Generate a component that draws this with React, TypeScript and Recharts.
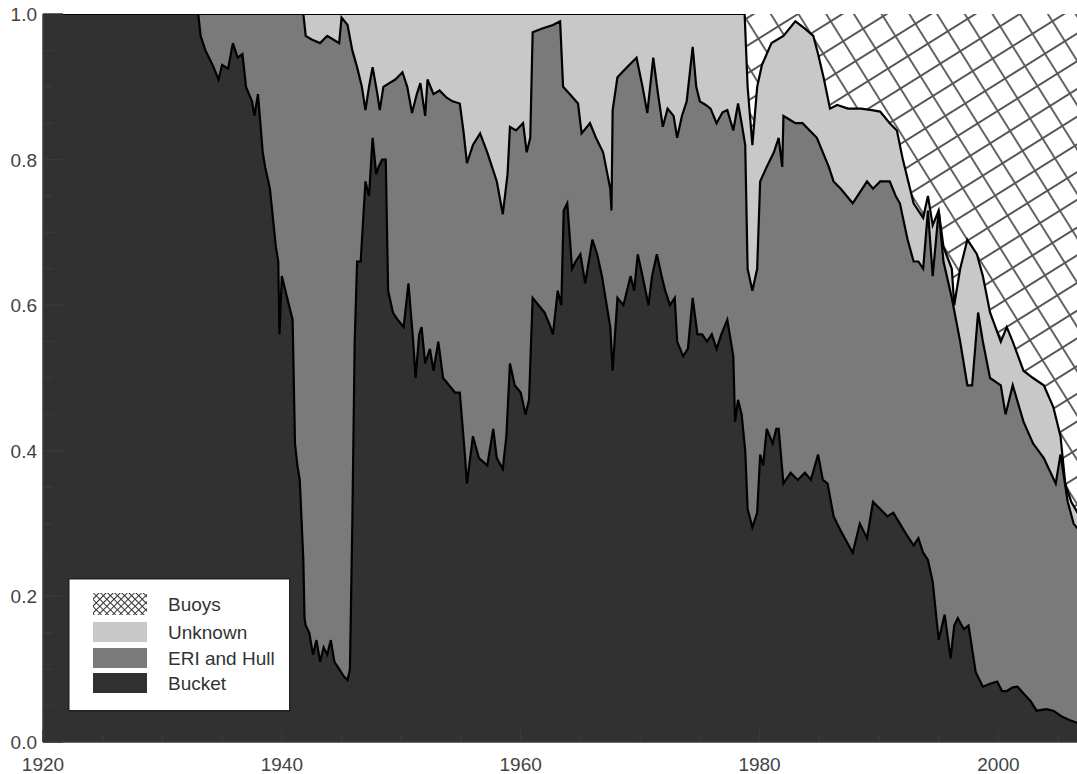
import { Area, ComposedChart, Legend, XAxis, YAxis } from "recharts";

// Each list holds the upper boundary of the stacked band: [year, cumulative fraction].
const bucketTop: [number, number][] = [
  [1920, 1.0], [1933.0, 1.0], [1933.2, 0.97], [1933.6, 0.95], [1934.2, 0.93], [1934.7, 0.91],
  [1935.0, 0.93], [1935.5, 0.925], [1935.9, 0.96], [1936.3, 0.94], [1936.7, 0.945], [1937.0, 0.9],
  [1937.5, 0.88], [1937.7, 0.86], [1938.0, 0.89], [1938.4, 0.81], [1938.6, 0.79], [1939.0, 0.76],
  [1939.5, 0.68], [1939.7, 0.66], [1939.8, 0.56], [1940.0, 0.64], [1940.3, 0.62], [1940.6, 0.6],
  [1940.9, 0.58], [1941.1, 0.41], [1941.3, 0.38], [1941.5, 0.36], [1941.8, 0.25], [1941.9, 0.17],
  [1942.0, 0.16], [1942.3, 0.15], [1942.6, 0.12], [1942.9, 0.14], [1943.2, 0.11], [1943.5, 0.13],
  [1943.8, 0.12], [1944.1, 0.14], [1944.4, 0.11], [1944.8, 0.1], [1945.2, 0.09], [1945.5, 0.085],
  [1945.7, 0.1], [1945.9, 0.3], [1946.1, 0.55], [1946.3, 0.66], [1946.6, 0.66], [1947.0, 0.77],
  [1947.3, 0.75], [1947.6, 0.83], [1947.9, 0.78], [1948.1, 0.79], [1948.4, 0.8], [1948.7, 0.8],
  [1948.9, 0.62], [1949.3, 0.59], [1949.7, 0.58], [1950.2, 0.57], [1950.6, 0.63], [1951.0, 0.55],
  [1951.2, 0.5], [1951.5, 0.56], [1951.7, 0.57], [1952.0, 0.52], [1952.4, 0.54], [1952.7, 0.51],
  [1953.1, 0.55], [1953.5, 0.5], [1954.0, 0.49], [1954.5, 0.48], [1954.9, 0.48], [1955.3, 0.4],
  [1955.5, 0.355], [1956.0, 0.42], [1956.5, 0.39], [1957.2, 0.38], [1957.7, 0.43], [1958.0, 0.39],
  [1958.5, 0.375], [1958.8, 0.42], [1959.1, 0.52], [1959.5, 0.49], [1960.0, 0.48], [1960.4, 0.45],
  [1960.7, 0.47], [1961.0, 0.61], [1961.5, 0.6], [1962.0, 0.59], [1962.5, 0.57], [1962.7, 0.56],
  [1963.1, 0.62], [1963.4, 0.6], [1963.6, 0.73], [1963.9, 0.74], [1964.3, 0.65], [1964.6, 0.66],
  [1965.0, 0.67], [1965.4, 0.63], [1965.7, 0.66], [1966.0, 0.69], [1966.4, 0.67], [1966.8, 0.64],
  [1967.2, 0.6], [1967.5, 0.57], [1967.7, 0.51], [1968.1, 0.61], [1968.6, 0.6], [1969.2, 0.64],
  [1969.5, 0.62], [1969.8, 0.67], [1970.2, 0.64], [1970.7, 0.6], [1971.0, 0.64], [1971.4, 0.67],
  [1971.8, 0.64], [1972.1, 0.62], [1972.5, 0.6], [1972.9, 0.61], [1973.1, 0.55], [1973.6, 0.53],
  [1974.0, 0.54], [1974.4, 0.61], [1974.8, 0.56], [1975.2, 0.56], [1975.6, 0.55], [1976.0, 0.56],
  [1976.4, 0.54], [1976.8, 0.56], [1977.3, 0.58], [1977.8, 0.53], [1977.95, 0.44], [1978.2, 0.47],
  [1978.5, 0.45], [1978.8, 0.4], [1979.0, 0.32], [1979.4, 0.295], [1979.8, 0.315], [1980.05, 0.395],
  [1980.3, 0.38], [1980.6, 0.43], [1981.1, 0.41], [1981.4, 0.43], [1981.6, 0.43], [1982.0, 0.355],
  [1982.6, 0.37], [1983.2, 0.36], [1983.8, 0.37], [1984.3, 0.36], [1984.9, 0.395], [1985.3, 0.36],
  [1985.7, 0.355], [1986.2, 0.31], [1986.8, 0.29], [1987.3, 0.275], [1987.8, 0.26], [1988.4, 0.3],
  [1989.0, 0.28], [1989.5, 0.33], [1990.1, 0.32], [1990.7, 0.31], [1991.2, 0.315], [1991.75, 0.3],
  [1992.3, 0.285], [1992.9, 0.27], [1993.3, 0.28], [1993.7, 0.26], [1994.1, 0.25], [1994.5, 0.22],
  [1995.0, 0.14], [1995.5, 0.175], [1996.0, 0.115], [1996.3, 0.16], [1996.6, 0.17], [1997.1, 0.155],
  [1997.5, 0.16], [1998.1, 0.096], [1998.7, 0.076], [1999.3, 0.08], [1999.9, 0.083], [2000.3, 0.07],
  [2000.7, 0.07], [2001.2, 0.075], [2001.6, 0.076], [2002.2, 0.065], [2002.7, 0.056], [2003.2, 0.043],
  [2004.0, 0.045], [2004.6, 0.043], [2005.3, 0.035], [2006.0, 0.03], [2006.8, 0.025],
];

const eriHullTop: [number, number][] = [
  [1920, 1.0], [1941.8, 1.0], [1942.0, 0.97], [1942.5, 0.965], [1943.2, 0.96], [1943.8, 0.97],
  [1944.3, 0.965], [1944.8, 0.96], [1945.0, 0.995], [1945.5, 0.985], [1945.9, 0.95], [1946.3, 0.927],
  [1946.7, 0.9], [1947.0, 0.868], [1947.3, 0.9], [1947.6, 0.927], [1948.0, 0.89], [1948.2, 0.868],
  [1948.5, 0.9], [1949.0, 0.905], [1949.5, 0.91], [1950.1, 0.92], [1950.5, 0.9], [1950.9, 0.864],
  [1951.3, 0.89], [1951.6, 0.905], [1952.0, 0.86], [1952.2, 0.91], [1952.7, 0.89], [1953.2, 0.895],
  [1953.8, 0.885], [1954.3, 0.88], [1954.9, 0.877], [1955.2, 0.84], [1955.5, 0.795], [1956.0, 0.82],
  [1956.6, 0.836], [1957.2, 0.81], [1957.6, 0.79], [1958.0, 0.77], [1958.5, 0.725], [1958.9, 0.78],
  [1959.1, 0.845], [1959.6, 0.84], [1960.2, 0.85], [1960.5, 0.81], [1960.8, 0.83], [1961.0, 0.975],
  [1961.8, 0.98], [1962.7, 0.985], [1963.3, 0.99], [1963.55, 0.9], [1964.1, 0.89], [1964.8, 0.877],
  [1965.1, 0.836], [1965.8, 0.85], [1966.3, 0.83], [1966.9, 0.81], [1967.5, 0.76], [1967.6, 0.73],
  [1967.7, 0.868], [1968.1, 0.913], [1968.5, 0.92], [1968.9, 0.927], [1969.7, 0.94], [1970.2, 0.9],
  [1970.6, 0.864], [1971.1, 0.94], [1971.5, 0.89], [1971.9, 0.845], [1972.3, 0.87], [1972.8, 0.86],
  [1973.1, 0.83], [1973.5, 0.86], [1973.9, 0.88], [1974.4, 0.955], [1974.7, 0.9], [1975.0, 0.88],
  [1975.5, 0.875], [1975.9, 0.87], [1976.4, 0.85], [1976.9, 0.865], [1977.3, 0.868], [1977.8, 0.84],
  [1978.2, 0.877], [1978.5, 0.85], [1978.8, 0.82], [1979.0, 0.65], [1979.4, 0.62], [1979.8, 0.65],
  [1980.05, 0.77], [1980.6, 0.79], [1981.2, 0.81], [1981.6, 0.83], [1981.9, 0.79], [1982.0, 0.86],
  [1982.5, 0.855], [1983.0, 0.85], [1983.6, 0.85], [1984.2, 0.84], [1984.8, 0.83], [1985.3, 0.81],
  [1985.8, 0.79], [1986.2, 0.77], [1986.8, 0.76], [1987.3, 0.75], [1987.8, 0.74], [1988.4, 0.755],
  [1989.0, 0.77], [1989.5, 0.76], [1990.1, 0.77], [1990.9, 0.77], [1991.4, 0.75], [1991.75, 0.74],
  [1992.4, 0.69], [1992.9, 0.66], [1993.3, 0.66], [1993.7, 0.65], [1994.1, 0.73], [1994.5, 0.64],
  [1995.0, 0.73], [1995.4, 0.66], [1996.1, 0.61], [1996.8, 0.55], [1997.4, 0.49], [1997.8, 0.49],
  [1998.3, 0.59], [1998.7, 0.55], [1999.3, 0.5], [2000.2, 0.49], [2000.6, 0.45], [2001.2, 0.49],
  [2002.1, 0.44], [2002.9, 0.41], [2003.8, 0.39], [2004.8, 0.355], [2005.2, 0.395], [2005.8, 0.33],
  [2006.3, 0.3], [2006.8, 0.29],
];

const unknownTop: [number, number][] = [
  [1920, 1.0], [1978.75, 1.0], [1979.0, 0.9], [1979.4, 0.82], [1979.8, 0.9], [1980.2, 0.93],
  [1981.0, 0.96], [1982.0, 0.97], [1983.0, 0.99], [1983.8, 0.98], [1984.5, 0.97], [1984.9, 0.945],
  [1985.4, 0.91], [1985.9, 0.87], [1986.5, 0.875], [1987.4, 0.87], [1988.5, 0.87], [1989.4, 0.868],
  [1990.1, 0.866], [1990.9, 0.85], [1991.5, 0.84], [1992.0, 0.8], [1992.9, 0.74], [1993.7, 0.72],
  [1994.1, 0.75], [1994.5, 0.71], [1995.0, 0.73], [1995.4, 0.68], [1996.1, 0.65], [1996.3, 0.6],
  [1996.8, 0.65], [1997.4, 0.69], [1998.2, 0.67], [1998.7, 0.64], [1999.3, 0.59], [2000.2, 0.55],
  [2000.7, 0.57], [2001.2, 0.55], [2002.1, 0.51], [2002.9, 0.5], [2003.8, 0.49], [2004.6, 0.46],
  [2005.2, 0.42], [2005.6, 0.355], [2006.1, 0.33], [2006.8, 0.31],
];

// buoys fill whatever is left up to the total
const buoysTop: [number, number][] = [
  [1920, 1.0], [2007, 1.0],
];

const xTicks = [
  1920, 1925, 1930, 1935, 1940, 1945, 1950, 1955, 1960, 1965, 1970, 1975, 1980, 1985, 1990, 1995,
  2000, 2005,
];
const yTicks = [
  0, 0.05, 0.1, 0.15, 0.2, 0.25, 0.3, 0.35, 0.4, 0.45, 0.5, 0.55, 0.6, 0.65, 0.7, 0.75, 0.8, 0.85,
  0.9, 0.95, 1.0,
];

const legendItems = [
  { name: "Buoys", fill: "url(#buoysHatchSmall)" },
  { name: "Unknown", fill: "#c8c8c8" },
  { name: "ERI and Hull", fill: "#7a7a7a" },
  { name: "Bucket", fill: "#313131" },
];

const FONT = "'Liberation Sans', Arial, Helvetica, sans-serif";
const AXIS = "#3a3a3a";
const LABEL = "#444";

const rows = (pts: [number, number][]) => pts.map(([year, share]) => ({ year, share }));

const isMajorYear = (v: number) => Math.round(v) % 20 === 0;
const isMajorShare = (v: number) => Math.round(v * 100) % 20 === 0;

function XTick(props: any) {
  const { x, y, payload, side } = props;
  const v = payload.value as number;
  const major = isMajorYear(v);
  const len = major ? 12 : 6;
  const dir = side === "bottom" ? -1 : 1;
  return (
    <g>
      <line x1={x} x2={x} y1={y} y2={y + dir * len} stroke={AXIS} strokeWidth={1.5} />
      {side === "bottom" && major && (
        <text x={x} y={y + 29} textAnchor="middle" fill={LABEL} fontSize={19} fontFamily={FONT}>
          {v}
        </text>
      )}
    </g>
  );
}

function YTick(props: any) {
  const { x, y, payload, side } = props;
  const v = payload.value as number;
  const major = isMajorShare(v);
  const len = major ? 20 : 10;
  const dir = side === "left" ? 1 : -1;
  return (
    <g>
      <line x1={x} x2={x + dir * len} y1={y} y2={y} stroke={AXIS} strokeWidth={1.5} />
      {side === "left" && major && (
        <text x={x - 6} y={y + 7} textAnchor="end" fill={LABEL} fontSize={19} fontFamily={FONT}>
          {v.toFixed(1)}
        </text>
      )}
    </g>
  );
}

function LegendBox() {
  return (
    <svg width={223} height={134} style={{ display: "block" }}>
      <defs>
        <pattern
          id="buoysHatchSmall"
          patternUnits="userSpaceOnUse"
          width={5}
          height={5}
          patternTransform="rotate(45)"
        >
          <rect width={5} height={5} fill="#fff" />
          <path d="M2.5,0 V5 M0,2.5 H5" stroke="#333" strokeWidth={1} />
        </pattern>
      </defs>
      <rect x={0.75} y={0.75} width={221} height={132} fill="#fff" stroke="#222" strokeWidth={1.5} />
      {legendItems.map((item, i) => {
        const top = [15, 44, 70, 95][i];
        const h = i === 0 ? 22 : 20;
        return (
          <g key={item.name}>
            <rect x={25} y={top} width={54} height={h} fill={item.fill} />
            <text
              x={100}
              y={top + h / 2 + 6.5}
              fill="#333"
              fontSize={19}
              fontFamily={FONT}
            >
              {item.name}
            </text>
          </g>
        );
      })}
    </svg>
  );
}

export default function App() {
  return (
    <div
      style={{
        position: "absolute",
        left: 0,
        top: 0,
        width: 1077,
        height: 774,
        overflow: "hidden",
        background: "#fff",
      }}
    >
      <ComposedChart width={1082} height={774} margin={{ top: 14, right: 0, bottom: 0, left: 0 }}>
        <defs>
          <pattern
            id="buoysHatch"
            patternUnits="userSpaceOnUse"
            width={23.5}
            height={23.5}
            patternTransform="rotate(-32)"
          >
            <rect width={23.5} height={23.5} fill="#fff" />
            <path d="M11.75,0 V23.5 M0,11.75 H23.5" stroke="#555" strokeWidth={1.8} />
          </pattern>
        </defs>
        <XAxis
          dataKey="year"
          type="number"
          domain={[1920, 2007]}
          allowDataOverflow
          ticks={xTicks}
          interval={0}
          height={32}
          tickSize={0}
          tickMargin={0}
          tickLine={false}
          axisLine={{ stroke: AXIS, strokeWidth: 1.5 }}
          tick={<XTick side="bottom" />}
        />
        <XAxis
          xAxisId="top"
          orientation="top"
          type="number"
          domain={[1920, 2007]}
          allowDataOverflow
          ticks={xTicks}
          interval={0}
          height={0}
          tickSize={0}
          tickMargin={0}
          tickLine={false}
          axisLine={{ stroke: AXIS, strokeWidth: 1.5 }}
          tick={<XTick side="top" />}
        />
        <YAxis
          type="number"
          domain={[0, 1]}
          allowDataOverflow
          ticks={yTicks}
          interval={0}
          width={43}
          tickSize={0}
          tickMargin={0}
          tickLine={false}
          axisLine={{ stroke: AXIS, strokeWidth: 1.5 }}
          tick={<YTick side="left" />}
        />
        <YAxis
          yAxisId="right"
          orientation="right"
          type="number"
          domain={[0, 1]}
          allowDataOverflow
          ticks={yTicks}
          interval={0}
          width={0}
          tickSize={0}
          tickMargin={0}
          tickLine={false}
          axisLine={{ stroke: AXIS, strokeWidth: 1.5 }}
          tick={<YTick side="right" />}
        />
        <Area
          name="Buoys"
          data={rows(buoysTop)}
          dataKey="share"
          type="linear"
          fill="url(#buoysHatch)"
          fillOpacity={1}
          stroke="none"
          dot={false}
          activeDot={false}
          isAnimationActive={false}
        />
        <Area
          name="Unknown"
          data={rows(unknownTop)}
          dataKey="share"
          type="linear"
          fill="#c8c8c8"
          fillOpacity={1}
          stroke="#000"
          strokeWidth={2.2}
          dot={false}
          activeDot={false}
          isAnimationActive={false}
        />
        <Area
          name="ERI and Hull"
          data={rows(eriHullTop)}
          dataKey="share"
          type="linear"
          fill="#7a7a7a"
          fillOpacity={1}
          stroke="#000"
          strokeWidth={2.2}
          dot={false}
          activeDot={false}
          isAnimationActive={false}
        />
        <Area
          name="Bucket"
          data={rows(bucketTop)}
          dataKey="share"
          type="linear"
          fill="#313131"
          fillOpacity={1}
          stroke="#000"
          strokeWidth={2.2}
          dot={false}
          activeDot={false}
          isAnimationActive={false}
        />
        <Legend
          layout="vertical"
          align="center"
          verticalAlign="middle"
          wrapperStyle={{ left: 68, top: 578, width: 223, height: 134 }}
          content={() => <LegendBox />}
        />
      </ComposedChart>
    </div>
  );
}
